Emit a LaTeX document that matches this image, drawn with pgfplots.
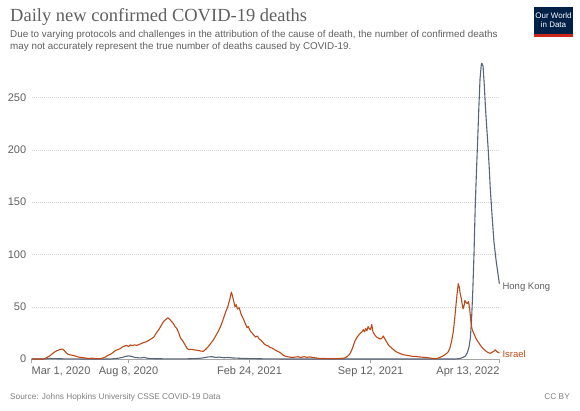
\documentclass[border=0pt]{standalone}
\usepackage{pgfplots}
\pgfplotsset{compat=1.18}
\usepackage{fontspec}
\setmainfont{Liberation Sans}
\newfontfamily\titlefont{Liberation Serif}
\definecolor{israel}{RGB}{190,72,22}
\definecolor{hk}{RGB}{88,100,122}
\definecolor{txt}{RGB}{95,95,95}
\definecolor{owidblue}{RGB}{0,33,71}
\definecolor{owidred}{RGB}{206,38,28}
\begin{document}
\begin{tikzpicture}[x=1pt,y=1pt]
\useasboundingbox (0,0) rectangle (580,410);
\node[anchor=base west, inner sep=0, text=txt, font=\titlefont\fontsize{18.5}{20}\selectfont] at (10,388) {Daily new confirmed COVID-19 deaths};
\node[anchor=base west, inner sep=0, text=txt, font=\fontsize{9.85}{12}\selectfont] at (10,372) {Due to varying protocols and challenges in the attribution of the cause of death, the number of confirmed deaths};
\node[anchor=base west, inner sep=0, text=txt, font=\fontsize{9.85}{12}\selectfont] at (10,360) {may not accurately represent the true number of deaths caused by COVID-19.};
\fill[owidblue] (534,373) rectangle (573,403);
\fill[owidred] (534,373) rectangle (573,376);
\node[text=white, inner sep=0, align=center, font=\fontsize{8}{8.6}\selectfont] at (553.5,390) {Our World\\in Data};
\node[anchor=base west, inner sep=0, text=gray, font=\fontsize{8.3}{10}\selectfont] at (10,11) {Source: Johns Hopkins University CSSE COVID-19 Data};
\node[anchor=base east, inner sep=0, text=gray, font=\fontsize{8.3}{10}\selectfont] at (570,11) {CC BY};
\begin{axis}[
  at={(31.7pt,51pt)}, anchor=south west,
  width=467.7pt, height=298pt, scale only axis,
  xmin=0, xmax=773, ymin=0, ymax=285,
  clip=false,
  axis x line*=bottom, axis y line*=left,
  x axis line style={draw=gray!70, -},
  y axis line style={draw=none},
  xtick={0,160,360,560,773},
  xticklabels={{\makebox[0pt][l]{Mar 1, 2020}},{Aug 8, 2020},{Feb 24, 2021},{Sep 12, 2021},{\makebox[0pt][r]{Apr 13, 2022}}},
  xtick style={draw=gray!70, thin},
  ytick style={draw=none},
  major tick length=4pt,
  tick align=outside,
  xticklabel style={text=txt, font=\fontsize{11}{12}\selectfont},
  ytick={0,50,100,150,200,250},
  ymajorgrids,
  grid style={draw=gray!35, dash pattern=on 1pt off 1pt},
  yticklabel style={text=txt, font=\fontsize{11}{12}\selectfont, xshift=2pt},
  /pgf/number format/assume math mode=true,
]
\addplot[hk, line width=1.1pt, line join=round] coordinates {
(0,0) (20,0) (30,0.5) (40,0.3) (60,0.1) (100,0) (130,0) (140,0.5) (150,1.5) (155,2.5) (160,3) (165,2.5) (170,1.5) (175,1.2) (180,1) (186,1.5) (192,0.6) (200,0.3) (230,0.1) (260,0.2) (275,0.5) (285,1.2) (292,2) (298,2.2) (304,1.5) (310,1.8) (318,1.2) (325,1.5) (332,1) (340,0.8) (350,0.5) (360,0.4) (380,0.2) (420,0) (700,0) (708,0.5) (713,1.5) (717,3) (720,6) (723,12) (725,20) (727,38) (729,65) (731,100) (733,145) (735,178) (737,208) (739,240) (741,268) (743,281) (744,283) (746,280) (748,262) (750,240) (752,222) (754,205) (756,185) (758,162) (760,145) (762,128) (764,112) (766,102) (768,92) (770,84) (772,76) (773,72)
};
\addplot[israel, line width=1.1pt, line join=round] coordinates {
(0,0) (18,0) (22,0.3) (25,1.5) (30,3) (35,5.5) (40,7.5) (44,8.5) (48,9.3) (51,9.5) (54,8) (57,6) (60,4.5) (63,4) (67,3.6) (70,3.2) (74,2.4) (78,1.8) (82,1.5) (86,1.2) (90,0.8) (95,0.5) (100,0.8) (105,0.4) (110,0.3) (115,0.5) (118,1) (122,2) (126,3.5) (130,4.5) (134,6) (138,8) (142,9) (146,9.8) (150,11.5) (154,12.5) (157,13) (160,12) (163,13.5) (166,12.8) (170,13.5) (174,13) (178,14) (182,15) (186,16) (190,16.5) (194,18) (198,19.5) (202,21) (206,25) (210,28) (214,32) (218,36) (222,38) (225,39.5) (228,38) (231,36) (234,34) (237,31) (240,29) (243,25) (246,20) (250,17) (254,13) (257,10) (260,9) (264,9.2) (268,8.8) (272,8.5) (276,8) (280,7.5) (284,7.4) (288,9.5) (292,12) (296,15) (300,18) (304,22) (308,26) (312,31) (316,37) (320,44) (324,50) (327,56) (330,64) (332,60) (334,55) (336,50) (338,52) (340,48) (343,49) (346,43) (350,38) (353,34) (356,30) (358,31) (361,27) (364,25) (367,23) (370,21) (373,22) (376,19) (379,18) (382,16) (385,14) (388,13) (391,12.5) (394,11) (397,10.5) (400,9.5) (404,8) (408,7) (412,5.5) (416,3.5) (420,2.5) (425,2) (430,1.5) (435,1.8) (440,2.2) (445,1.5) (450,2.2) (455,1.6) (460,2) (465,1.4) (470,1) (475,0.6) (480,0.5) (490,0.4) (500,0.3) (510,0.5) (518,1) (522,2.5) (526,5) (530,10) (534,17) (538,21) (542,24) (546,26) (548,28) (550,26) (552,29) (554,27) (556,31) (558,29) (560,28) (562,33) (564,26) (567,23) (570,21) (573,20) (576,19) (579,20) (581,22) (584,19) (587,16) (590,13) (594,11) (598,9) (602,7) (606,6) (610,5) (615,4) (620,3.5) (625,3) (630,2.5) (635,2.4) (640,2) (645,1.8) (650,1.5) (655,1.2) (660,0.8) (665,0.5) (670,0.5) (675,1.5) (680,3) (684,4.5) (688,6.5) (691,10) (694,17) (697,27) (699,38) (701,50) (703,62) (705,72) (707,68) (708,63) (710,58) (711,54) (713,48) (715,52) (716,56) (718,54) (720,53) (722,55) (724,47) (726,35) (728,28) (731,24) (734,20) (737,17) (740,14.5) (743,12) (746,10) (749,8.5) (752,7) (755,6) (758,5.5) (761,6.5) (764,7.5) (766,8.8) (768,7.5) (770,6.5) (773,6)
};
\node[anchor=west, text=txt, font=\fontsize{9.5}{11}\selectfont, inner sep=0] at (axis cs:773,69) {\hspace{3pt}Hong Kong};
\node[anchor=west, text=israel, font=\fontsize{9.5}{11}\selectfont, inner sep=0] at (axis cs:773,5) {\hspace{3pt}Israel};
\end{axis}
\end{tikzpicture}
\end{document}
